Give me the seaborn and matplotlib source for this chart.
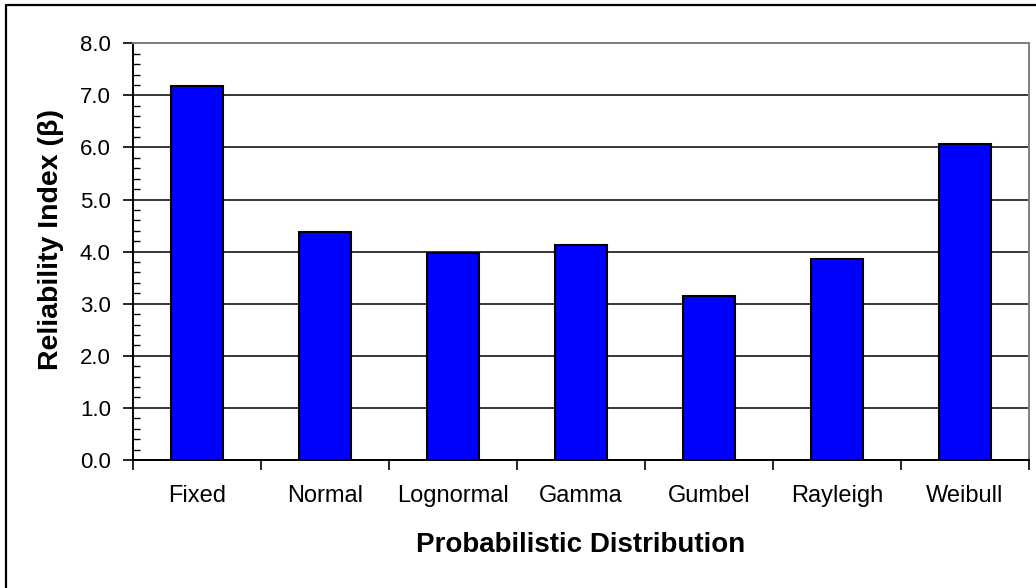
import matplotlib
matplotlib.use("Agg")
import matplotlib.pyplot as plt
from matplotlib.ticker import MultipleLocator, FixedLocator
from matplotlib.lines import Line2D
import seaborn as sns
import pandas as pd

# Reliability index for each probabilistic distribution
distributions = ["Fixed", "Normal", "Lognormal", "Gamma", "Gumbel", "Rayleigh", "Weibull"]
beta_values = [7.18, 4.37, 3.98, 4.13, 3.15, 3.85, 6.07]
y_ticks = [0, 1, 2, 3, 4, 5, 6, 7, 8]

sns.set_style("white")
plt.rcParams["font.family"] = ["Liberation Sans", "DejaVu Sans"]
plt.rcParams["text.color"] = "black"
plt.rcParams["axes.labelcolor"] = "black"
plt.rcParams["xtick.color"] = "black"
plt.rcParams["ytick.color"] = "black"

df = pd.DataFrame({"Distribution": distributions, "Beta": beta_values})

fig = plt.figure(figsize=(10.36, 5.88), dpi=100)
ax = fig.add_axes([133 / 1036, 128 / 588, 896 / 1036, 416.7 / 588])

sns.barplot(data=df, x="Distribution", y="Beta", ax=ax, color="#0000FF",
            saturation=1, width=0.4, edgecolor="black", linewidth=1.5, zorder=3)

n = len(distributions)
ax.set_xlim(-0.5, n - 0.5)
ax.set_ylim(0, 8)

# horizontal gridlines
ax.yaxis.set_major_locator(FixedLocator(y_ticks))
ax.yaxis.set_minor_locator(MultipleLocator(0.2))
ax.set_yticklabels([f"{v:.1f}" for v in y_ticks], fontsize=16)
ax.grid(axis="y", which="major", color="black", linewidth=1.1, zorder=1)
ax.grid(axis="x", visible=False)

# y ticks: major outward, minor inward
ax.tick_params(axis="y", which="major", direction="out", length=7, width=1.2,
               color="black", labelcolor="black", pad=9, left=True)
ax.tick_params(axis="y", which="minor", direction="in", length=5, width=1.0,
               color="black", left=True)

# x ticks: marks at category boundaries, labels at centers
ax.set_xticks(range(n))
ax.set_xticklabels(distributions, fontsize=17)
ax.xaxis.set_minor_locator(FixedLocator([i - 0.5 for i in range(n + 1)]))
ax.tick_params(axis="x", which="major", length=0, pad=18, labelcolor="black")
ax.tick_params(axis="x", which="minor", direction="out", length=7, width=1.2,
               color="black", bottom=True)

for side in ["left", "bottom"]:
    ax.spines[side].set_color("black")
    ax.spines[side].set_linewidth(1.4)
    ax.spines[side].set_visible(True)
for side in ["top", "right"]:
    ax.spines[side].set_color("#808080")
    ax.spines[side].set_linewidth(1.4)
    ax.spines[side].set_visible(True)

ax.set_xlabel("Probabilistic Distribution", fontsize=20, fontweight="bold",
              color="black")
ax.xaxis.label.set_va("center")
ax.xaxis.set_label_coords(0.5, -0.203)
ax.set_ylabel("Reliability Index (β)", fontsize=20.5, fontweight="bold",
              color="black")
ax.yaxis.label.set_va("center")
ax.yaxis.set_label_coords(-0.091, 0.53)

# chart frame (top and left edges)
fig.add_artist(Line2D([5.5 / 1036, 5.5 / 1036], [0, 1 - 4.5 / 588],
                      transform=fig.transFigure, color="black", linewidth=1.6))
fig.add_artist(Line2D([5.5 / 1036, 1], [1 - 4.5 / 588, 1 - 4.5 / 588],
                      transform=fig.transFigure, color="black", linewidth=1.6))

fig.savefig("out.png", dpi=100)
